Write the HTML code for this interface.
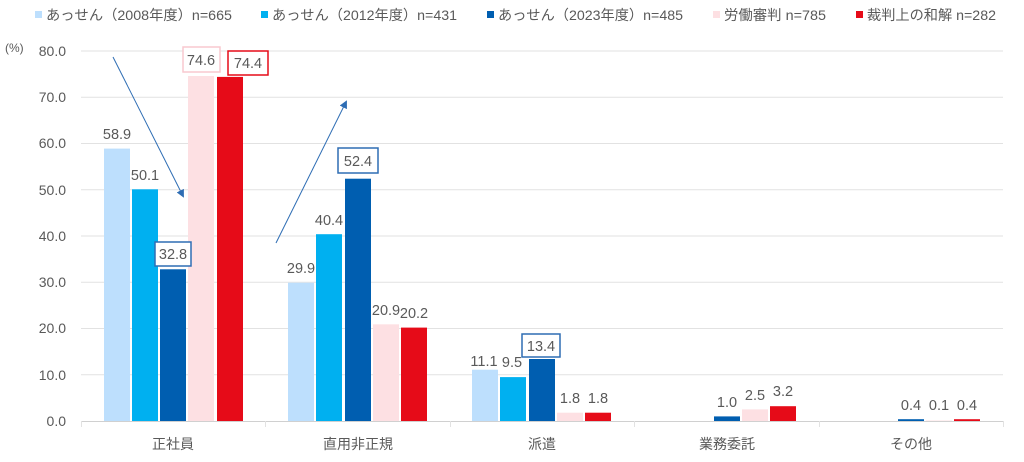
<!DOCTYPE html>
<html><head><meta charset="utf-8"><style>
html,body{margin:0;padding:0;background:#fff;}
svg text{font-family:"Liberation Sans","Noto Sans CJK JP",sans-serif;fill:#595959;}
</style></head><body>
<svg width="1024" height="457" viewBox="0 0 1024 457" xmlns="http://www.w3.org/2000/svg">
<defs><marker id="ah" markerWidth="8" markerHeight="8" refX="6" refY="4" orient="auto" markerUnits="userSpaceOnUse"><path d="M0,0 L8,4 L0,8 z" fill="#2e6db4"/></marker></defs>
<g font-size="14">
<rect x="35" y="11" width="7" height="7" fill="#bddffd"/><text x="46" y="20" textLength="186" lengthAdjust="spacingAndGlyphs">あっせん（2008年度）n=665</text>
<rect x="261" y="11" width="7" height="7" fill="#00b0f0"/><text x="272" y="20" textLength="185" lengthAdjust="spacingAndGlyphs">あっせん（2012年度）n=431</text>
<rect x="487" y="11" width="7" height="7" fill="#005eb0"/><text x="498" y="20" textLength="185" lengthAdjust="spacingAndGlyphs">あっせん（2023年度）n=485</text>
<rect x="713" y="11" width="7" height="7" fill="#fde0e3"/><text x="724" y="20" textLength="102" lengthAdjust="spacingAndGlyphs">労働審判 n=785</text>
<rect x="856" y="11" width="7" height="7" fill="#e60b18"/><text x="867" y="20" textLength="129" lengthAdjust="spacingAndGlyphs">裁判上の和解 n=282</text>
</g>
<g stroke="#e2e2e2" stroke-width="1">
<line x1="81" y1="51" x2="1003" y2="51"/><line x1="81" y1="97.25" x2="1003" y2="97.25"/>
<line x1="81" y1="143.5" x2="1003" y2="143.5"/><line x1="81" y1="189.75" x2="1003" y2="189.75"/>
<line x1="81" y1="236" x2="1003" y2="236"/><line x1="81" y1="282.25" x2="1003" y2="282.25"/>
<line x1="81" y1="328.5" x2="1003" y2="328.5"/><line x1="81" y1="374.75" x2="1003" y2="374.75"/>
<line x1="81" y1="421.5" x2="1003" y2="421.5" stroke="#d0d0d0"/>
<line x1="81.5" y1="421" x2="81.5" y2="427"/><line x1="265.5" y1="421" x2="265.5" y2="427"/>
<line x1="450.5" y1="421" x2="450.5" y2="427"/><line x1="634.5" y1="421" x2="634.5" y2="427"/>
<line x1="819.5" y1="421" x2="819.5" y2="427"/><line x1="1003.5" y1="421" x2="1003.5" y2="427"/>
</g>
<g font-size="14" text-anchor="end">
<text x="66" y="56">80.0</text><text x="66" y="102">70.0</text><text x="66" y="148">60.0</text>
<text x="66" y="195">50.0</text><text x="66" y="241">40.0</text><text x="66" y="287">30.0</text>
<text x="66" y="333">20.0</text><text x="66" y="380">10.0</text><text x="66" y="426">0.0</text>
</g>
<text x="5" y="52" font-size="12">(%)</text>
<g>
<rect x="104" y="148.6" width="26" height="272.4" fill="#bddffd"/>
<rect x="132" y="189.3" width="26" height="231.7" fill="#00b0f0"/>
<rect x="160" y="269.3" width="26" height="151.7" fill="#005eb0"/>
<rect x="188" y="76" width="26" height="345" fill="#fde0e3"/>
<rect x="217" y="76.9" width="26" height="344.1" fill="#e60b18"/>
<rect x="288" y="282.7" width="26" height="138.3" fill="#bddffd"/>
<rect x="316" y="234.2" width="26" height="186.8" fill="#00b0f0"/>
<rect x="345" y="178.7" width="26" height="242.3" fill="#005eb0"/>
<rect x="373" y="324.3" width="26" height="96.7" fill="#fde0e3"/>
<rect x="401" y="327.6" width="26" height="93.4" fill="#e60b18"/>
<rect x="472" y="369.7" width="26" height="51.3" fill="#bddffd"/>
<rect x="500" y="377.1" width="26" height="43.9" fill="#00b0f0"/>
<rect x="529" y="359" width="26" height="62" fill="#005eb0"/>
<rect x="557" y="412.7" width="26" height="8.3" fill="#fde0e3"/>
<rect x="585" y="412.7" width="26" height="8.3" fill="#e60b18"/>
<rect x="714" y="416.4" width="26" height="4.6" fill="#005eb0"/>
<rect x="742" y="409.4" width="26" height="11.6" fill="#fde0e3"/>
<rect x="770" y="406.2" width="26" height="14.8" fill="#e60b18"/>
<rect x="898" y="419.2" width="26" height="1.8" fill="#005eb0"/>
<rect x="926" y="420.5" width="26" height="0.5" fill="#fde0e3"/>
<rect x="954" y="419.2" width="26" height="1.8" fill="#e60b18"/>
</g>
<g fill="#fff" stroke-width="1.5">
<rect x="155" y="242" width="36" height="24" stroke="#2e6db4"/>
<rect x="183" y="47" width="37" height="25" stroke="#f9c9cf"/>
<rect x="228" y="51" width="40" height="24" stroke="#e60b18"/>
<rect x="338" y="148" width="40" height="25" stroke="#2e6db4"/>
<rect x="522" y="334" width="38" height="23" stroke="#2e6db4"/>
</g>
<g font-size="14.5" text-anchor="middle">
<text x="117" y="139">58.9</text><text x="145" y="180">50.1</text><text x="173" y="259">32.8</text>
<text x="201" y="65">74.6</text><text x="248" y="68">74.4</text>
<text x="301" y="273">29.9</text><text x="329" y="225">40.4</text><text x="358" y="166">52.4</text>
<text x="386" y="315">20.9</text><text x="414" y="318">20.2</text>
<text x="484" y="366">11.1</text><text x="512" y="367">9.5</text><text x="541" y="351">13.4</text>
<text x="570" y="403">1.8</text><text x="598" y="403">1.8</text>
<text x="727" y="407">1.0</text><text x="755" y="400">2.5</text><text x="783" y="396">3.2</text>
<text x="911" y="410">0.4</text><text x="939" y="410">0.1</text><text x="967" y="410">0.4</text>
</g>
<line x1="113" y1="57" x2="183" y2="196" stroke="#2e6db4" stroke-width="1" marker-end="url(#ah)"/>
<line x1="276" y1="243" x2="346" y2="102" stroke="#2e6db4" stroke-width="1" marker-end="url(#ah)"/>
<g font-size="14" text-anchor="middle">
<text x="173" y="449">正社員</text><text x="358" y="449">直用非正規</text>
<text x="542" y="449">派遣</text><text x="727" y="449">業務委託</text><text x="911" y="449">その他</text>
</g>
</svg>
</body></html>
